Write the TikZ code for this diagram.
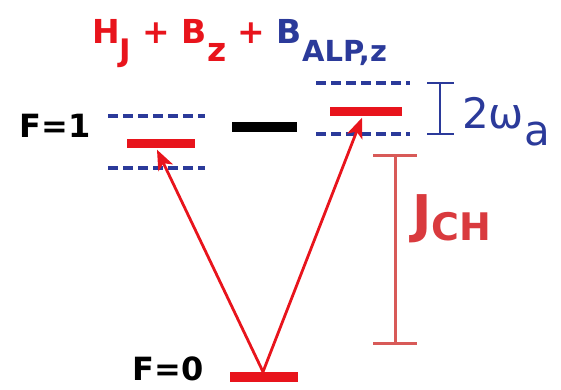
\documentclass[tikz,border=0pt]{standalone}
\usepackage{fontspec}
\setmainfont{DejaVu Sans}
\usetikzlibrary{arrows.meta}
\definecolor{tred}{HTML}{E8141C}
\definecolor{tblue}{HTML}{2B3A9A}
\definecolor{jred}{HTML}{D93A3E}
\definecolor{ired}{HTML}{D85A58}
\tikzset{
  bar/.style={fill=#1, draw=none, inner sep=0pt, minimum height=9pt, minimum width=68pt},
  lvl/.style={tblue, line width=3.2pt, dash pattern=on 10pt off 5pt},
  exc/.style={tred, line width=2.8pt, -{Stealth[length=20pt,width=16pt,inset=5pt]}},
  flab/.style={font=\bfseries\fontsize{32}{32}\selectfont, inner sep=0pt}
}
\newcommand{\subtxt}[2]{\raisebox{-18pt}{\fontsize{#1}{#1}\selectfont #2}}
\begin{document}
\begin{tikzpicture}[x=1pt,y=-1pt]
\path[use as bounding box] (0,0) rectangle (561,389);
% title
\node[anchor=base west, inner sep=0pt, font=\bfseries\fontsize{33}{33}\selectfont] (title) at (92,43)
 {\textcolor{tred}{H\subtxt{31}{J} + B\subtxt{33}{z} + }\textcolor{tblue}{B\subtxt{29}{ALP,z}}};
% labels
\node[flab] (f1) at (55,126) {F=1};
\node[flab] (f0) at (168,369) {F=0};
% levels
\draw[lvl] (108,116) -- (205,116);
\draw[lvl] (108,168) -- (205,168);
\draw[lvl] (316,83) -- (410,83);
\draw[lvl] (316,134) -- (410,134);
\node[bar=tred] (b1) at (161,143) {};
\node[bar=black, minimum height=10pt, minimum width=65pt] (bm) at (264.5,127) {};
\node[bar=tred, minimum width=72pt] (b2) at (366,111) {};
\node[bar=tred, minimum height=10pt] (b0) at (264,377) {};
% blue I-beam
\coordinate (wt) at (440,83);
\coordinate (wb) at (440,134);
\draw[tblue, line width=2pt] (wt) -- (wb);
\draw[tblue, line width=2pt] ([xshift=-13pt]wt) -- ([xshift=14pt]wt);
\draw[tblue, line width=2pt] ([xshift=-13pt]wb) -- ([xshift=14pt]wb);
\node[anchor=base west, inner sep=0pt, text=tblue, font=\fontsize{42}{42}\selectfont] (om) at (462,128) {2ω\raisebox{-17pt}{a}};
% red I-beam
\coordinate (jt) at (395,155);
\coordinate (jb) at (395,343);
\draw[ired, line width=3pt] (jt) -- (jb);
\draw[ired, line width=3pt] ([xshift=-22pt]jt) -- ([xshift=22pt]jt);
\draw[ired, line width=3pt] ([xshift=-22pt]jb) -- ([xshift=22pt]jb);
\node[anchor=base west, inner sep=0pt, text=jred, font=\bfseries\fontsize{52}{52}\selectfont] (jch) at (412,232) {J\raisebox{-8pt}{\fontsize{38}{38}\selectfont CH}};
% excitation arrows
\coordinate (a0) at ([xshift=-1pt]b0.north);
\coordinate (a1) at ([xshift=-4pt,yshift=-2pt]b1.south);
\coordinate (a2) at ([xshift=-4pt,yshift=-2pt]b2.south);
\draw[exc] (a0) -- (a1);
\draw[exc] (a0) -- (a2);
\end{tikzpicture}
\end{document}
